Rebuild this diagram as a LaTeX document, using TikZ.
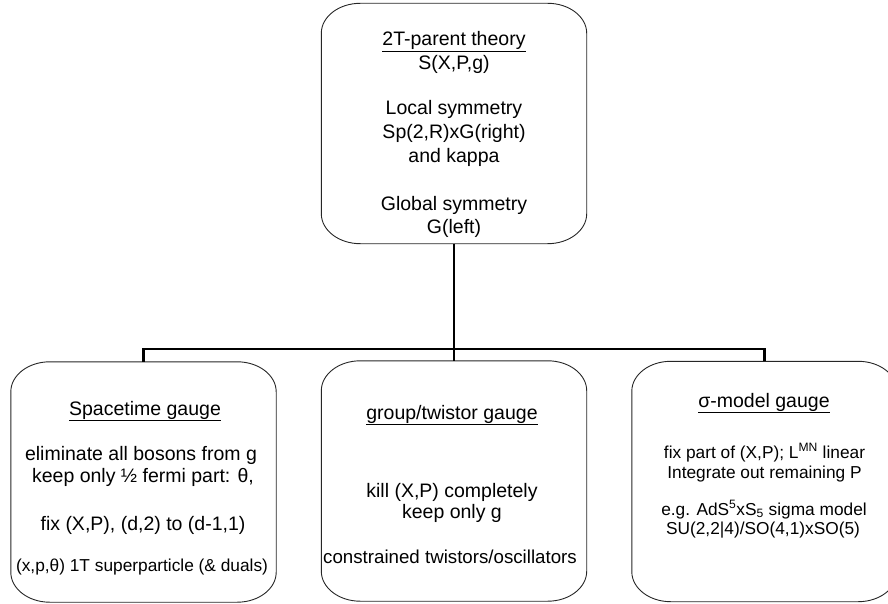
\documentclass[tikz,border=0pt]{standalone}
\usepackage{fontspec}
\setmainfont{Liberation Sans}
\tikzset{
  box/.style={draw=none, minimum width=265pt, minimum height=240pt, inner sep=0pt},
  boxline/.style={draw=black!85, line width=0.9pt},
  conn/.style={line width=2.8pt, draw=black},
  ln/.style={anchor=base, inner sep=0pt, font=\fontsize{19.5}{23}\selectfont},
  lnm/.style={ln, font=\fontsize{18.7}{22}\selectfont},
  lns/.style={ln, font=\fontsize{17.3}{20}\selectfont},
}
\newcommand\eboxframe[1]{%
  \draw[boxline] ([xshift=39pt]#1.north west) -- ([xshift=-39pt]#1.north east)
    arc[start angle=270, end angle=360, x radius=39, y radius=30]
    -- ([yshift=30pt]#1.south east)
    arc[start angle=0, end angle=90, x radius=39, y radius=30]
    -- ([xshift=39pt]#1.south west)
    arc[start angle=90, end angle=180, x radius=39, y radius=30]
    -- ([yshift=-30pt]#1.north west)
    arc[start angle=180, end angle=270, x radius=39, y radius=30] -- cycle;}
\begin{document}
\begin{tikzpicture}[x=1pt, y=-1pt]
\useasboundingbox (0,0) rectangle (888,604);
\clip (0,0) rectangle (888,604);
% boxes
\node[box] (top) at (454,123.5) {};
\node[box] (left) at (143.5,482) {};
\node[box] (mid) at (454,481) {};
\node[box] (right) at (764.5,481.5) {};
\eboxframe{top}
\eboxframe{left}
\eboxframe{mid}
\eboxframe{right}
% connectors
\coordinate (j) at (454,349);
\draw[conn] (top.south) -- (j);
\draw[conn] (left.north) |- (j);
\draw[conn] (j) -- (mid.north);
\draw[conn] (right.north) |- (j);
% top box text
\node[ln] (t1) at (454,46) {\underline{2T-parent theory}};
\node[ln] (t2) at (454,70) {S(X,P,g)};
\node[ln] (t3) at (454,115) {Local symmetry};
\node[ln] (t4) at (454,139) {Sp(2,R)xG(right)};
\node[ln] (t5) at (454,163) {and kappa};
\node[ln] (t6) at (454,210) {Global symmetry};
\node[ln] (t7) at (454,233) {G(left)};
% left box text
\node[ln] (l1) at (145,415) {\underline{Spacetime gauge}};
\node[ln] (l2) at (141,460) {eliminate all bosons from g};
\node[ln] (l3) at (143,482) {keep only ½ fermi part: θ,};
\node[ln] (l4) at (143,530) {fix (X,P), (d,2) to (d-1,1)};
\node[lns] (l5) at (142,571) {(x,p,θ) 1T superparticle (\& duals)};
% middle box text
\node[ln] (m1) at (452,419) {\underline{group/twistor gauge}};
\node[ln] (m2) at (452,497) {kill (X,P) completely};
\node[ln] (m3) at (452,518) {keep only g};
\node[lnm] (m4) at (450,563) {constrained twistors/oscillators};
% right box text
\node[ln] (r1) at (764,407) {\underline{σ-model gauge}};
\node[lns] (r2) at (764.5,458) {fix part of (X,P); L\textsuperscript{MN} linear};
\node[lns] (r3) at (764.5,478) {Integrate out remaining P};
\node[lns] (r4) at (764,515) {e.g. AdS\textsuperscript{5}xS\textsubscript{5} sigma model};
\node[lns] (r5) at (763,534) {SU(2,2|4)/SO(4,1)xSO(5)};
\end{tikzpicture}
\end{document}
